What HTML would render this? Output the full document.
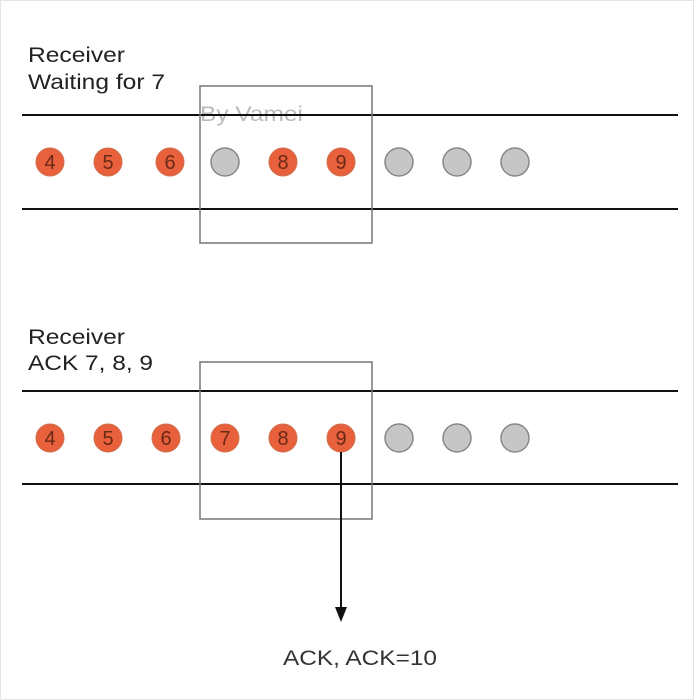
<!DOCTYPE html>
<html><head><style>
body{margin:0;background:#fff;}
svg{display:block}
text{font-family:"Liberation Sans",sans-serif;}
</style></head><body>
<svg width="694" height="700" viewBox="0 0 694 700" xmlns="http://www.w3.org/2000/svg">
<rect x="0.5" y="0.5" width="693" height="699" fill="#fff" stroke="#e4e4e4"/>
<text x="28" y="62" font-size="21" fill="#222" textLength="97" lengthAdjust="spacingAndGlyphs">Receiver</text>
<text x="28" y="89" font-size="21" fill="#222" textLength="137" lengthAdjust="spacingAndGlyphs">Waiting for 7</text>
<text x="200" y="121" font-size="21" fill="#bbb" textLength="103" lengthAdjust="spacingAndGlyphs">By Vamei</text>
<line x1="22" y1="115" x2="678" y2="115" stroke="#111" stroke-width="2"/>
<line x1="22" y1="209" x2="678" y2="209" stroke="#111" stroke-width="2"/>
<rect x="200" y="86" width="172" height="157" fill="none" stroke="#777" stroke-width="1.5"/>
<g font-size="20" text-anchor="middle">
<circle cx="50" cy="162" r="14" fill="#e8603c" stroke="#d0704c"/><text x="50" y="169" fill="#6a2a15">4</text>
<circle cx="108" cy="162" r="14" fill="#e8603c" stroke="#d0704c"/><text x="108" y="169" fill="#6a2a15">5</text>
<circle cx="170" cy="162" r="14" fill="#e8603c" stroke="#d0704c"/><text x="170" y="169" fill="#6a2a15">6</text>
<circle cx="225" cy="162" r="14" fill="#c6c6c6" stroke="#888" stroke-width="1.5"/>
<circle cx="283" cy="162" r="14" fill="#e8603c" stroke="#d0704c"/><text x="283" y="169" fill="#6a2a15">8</text>
<circle cx="341" cy="162" r="14" fill="#e8603c" stroke="#d0704c"/><text x="341" y="169" fill="#6a2a15">9</text>
<circle cx="399" cy="162" r="14" fill="#c6c6c6" stroke="#888" stroke-width="1.5"/>
<circle cx="457" cy="162" r="14" fill="#c6c6c6" stroke="#888" stroke-width="1.5"/>
<circle cx="515" cy="162" r="14" fill="#c6c6c6" stroke="#888" stroke-width="1.5"/>
</g>
<text x="28" y="344" font-size="21" fill="#222" textLength="97" lengthAdjust="spacingAndGlyphs">Receiver</text>
<text x="28" y="370" font-size="21" fill="#222" textLength="125" lengthAdjust="spacingAndGlyphs">ACK 7, 8, 9</text>
<line x1="22" y1="391" x2="678" y2="391" stroke="#111" stroke-width="2"/>
<line x1="22" y1="484" x2="678" y2="484" stroke="#111" stroke-width="2"/>
<rect x="200" y="362" width="172" height="157" fill="none" stroke="#777" stroke-width="1.5"/>
<g font-size="20" text-anchor="middle">
<circle cx="50" cy="438" r="14" fill="#e8603c" stroke="#d0704c"/><text x="50" y="445" fill="#6a2a15">4</text>
<circle cx="108" cy="438" r="14" fill="#e8603c" stroke="#d0704c"/><text x="108" y="445" fill="#6a2a15">5</text>
<circle cx="166" cy="438" r="14" fill="#e8603c" stroke="#d0704c"/><text x="166" y="445" fill="#6a2a15">6</text>
<circle cx="225" cy="438" r="14" fill="#e8603c" stroke="#d0704c"/><text x="225" y="445" fill="#6a2a15">7</text>
<circle cx="283" cy="438" r="14" fill="#e8603c" stroke="#d0704c"/><text x="283" y="445" fill="#6a2a15">8</text>
<circle cx="341" cy="438" r="14" fill="#e8603c" stroke="#d0704c"/><text x="341" y="445" fill="#6a2a15">9</text>
<circle cx="399" cy="438" r="14" fill="#c6c6c6" stroke="#888" stroke-width="1.5"/>
<circle cx="457" cy="438" r="14" fill="#c6c6c6" stroke="#888" stroke-width="1.5"/>
<circle cx="515" cy="438" r="14" fill="#c6c6c6" stroke="#888" stroke-width="1.5"/>
</g>
<line x1="341" y1="452" x2="341" y2="612" stroke="#111" stroke-width="2"/>
<polygon points="335,607 347,607 341,622" fill="#111"/>
<text x="283" y="665" font-size="21" fill="#333" textLength="154" lengthAdjust="spacingAndGlyphs">ACK, ACK=10</text>
</svg>
</body></html>
